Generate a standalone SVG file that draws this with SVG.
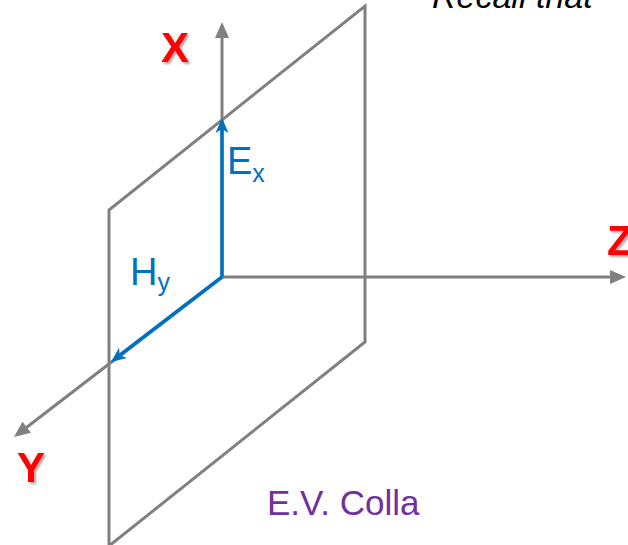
<svg xmlns="http://www.w3.org/2000/svg" width="628" height="545" viewBox="0 0 628 545">
  <defs>
    <marker id="grayArrow" markerUnits="userSpaceOnUse" markerWidth="16" markerHeight="14" refX="4" refY="7" orient="auto" overflow="visible">
      <path d="M0,0 L16,7 L0,14 z" fill="#808080"/>
    </marker>
    <marker id="blueArrow" markerUnits="userSpaceOnUse" markerWidth="16" markerHeight="13" refX="6" refY="6.5" orient="auto" overflow="visible">
      <path d="M0,0 L15,6.5 L0,13 L4,6.5 z" fill="#0070C0"/>
    </marker>
    <filter id="shadow" x="-30%" y="-30%" width="160%" height="160%">
      <feDropShadow dx="2" dy="2" stdDeviation="1.2" flood-color="#000000" flood-opacity="0.35"/>
    </filter>
  </defs>
  <style>
    .axis { stroke: #808080; stroke-width: 3; fill: none; }
    .field { stroke: #0070C0; stroke-width: 3.5; fill: none; }
    .axlabel { font-family: "Liberation Sans", Arial, sans-serif; font-weight: bold; font-size: 42px; fill: #FF0000; filter: url(#shadow); }
    .flabel { font-family: "Liberation Sans", Arial, sans-serif; font-size: 38px; fill: #0070C0; }
  </style>
  <rect width="628" height="545" fill="#ffffff"/>
  <text x="432" y="8" font-family="Liberation Sans, Arial, sans-serif" font-style="italic" font-size="34" fill="#000000">Recall that</text>
  <g id="plane">
    <polygon points="365,6 365,342 109,546 109,210" class="axis" stroke-linejoin="miter"/>
  </g>
  <g id="connectors">
    <line class="axis" x1="222" y1="277" x2="222" y2="34" marker-end="url(#grayArrow)"/>
    <line class="axis" x1="222" y1="277" x2="614" y2="277" marker-end="url(#grayArrow)"/>
    <line class="axis" x1="222" y1="277" x2="23.5" y2="429.7" marker-end="url(#grayArrow)"/>
    <line class="field" x1="222" y1="277" x2="222" y2="127" marker-end="url(#blueArrow)"/>
    <line class="field" x1="222" y1="277" x2="118.2" y2="356.5" marker-end="url(#blueArrow)"/>
  </g>
  <g id="label-x"><text class="axlabel" x="175" y="62" text-anchor="middle">X</text></g>
  <g id="label-y"><text class="axlabel" x="31" y="482" text-anchor="middle">Y</text></g>
  <g id="label-z"><text class="axlabel" x="607" y="255">Z</text></g>
  <g id="label-ex"><text class="flabel" x="227" y="174">E<tspan font-size="25" dy="8">x</tspan></text></g>
  <g id="label-hy"><text class="flabel" x="130" y="285">H<tspan font-size="25" dy="6">y</tspan></text></g>
  <g id="credit"><text x="267" y="515" font-family="Liberation Sans, Arial, sans-serif" font-size="35" fill="#7030A0">E.V. Colla</text></g>
</svg>
